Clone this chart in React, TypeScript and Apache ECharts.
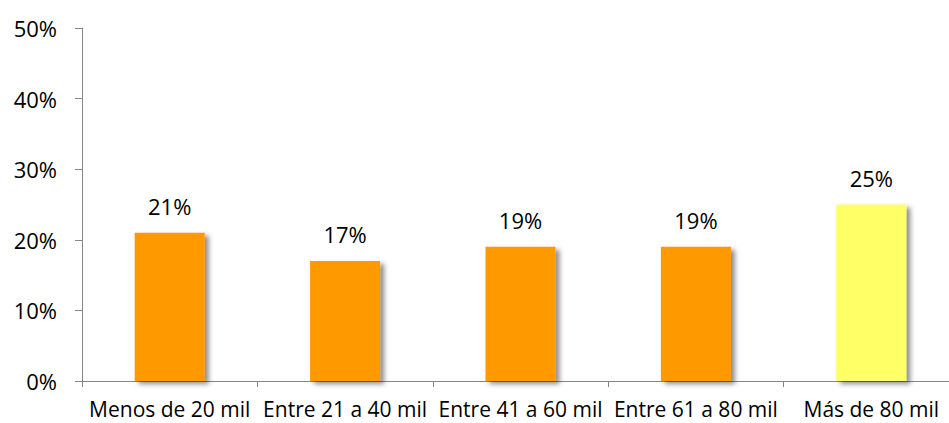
import React, { useEffect, useRef } from "react";
import * as echarts from "echarts";

const categories = ["Menos de 20 mil", "Entre 21 a 40 mil", "Entre 41 a 60 mil", "Entre 61 a 80 mil", "Más de 80 mil"];
const values = [21, 17, 19, 19, 25];
const barColors = ["#FF9900", "#FF9900", "#FF9900", "#FF9900", "#FFFF66"];
const yTicks = { min: 0, max: 50, interval: 10 };

export default function App() {
  const ref = useRef<HTMLDivElement>(null);
  useEffect(() => {
    const chart = echarts.init(ref.current!, undefined, { renderer: "svg" });
    const font = "'Open Sans', 'Liberation Sans', sans-serif";
    chart.setOption({
      animation: false,
      grid: { left: 82, top: 28, bottom: 42, width: 877, containLabel: false },
      xAxis: {
        type: "category",
        data: categories,
        axisLine: { lineStyle: { color: "#868686", width: 1 } },
        axisTick: { show: true, length: 6, lineStyle: { color: "#868686" } },
        axisLabel: { color: "#000", fontSize: 21, fontFamily: font, margin: 17, interval: 0 },
      },
      yAxis: {
        type: "value",
        min: yTicks.min,
        max: yTicks.max,
        interval: yTicks.interval,
        splitLine: { show: false },
        axisLine: { show: true, lineStyle: { color: "#868686", width: 1 } },
        axisTick: { show: true, length: 7, lineStyle: { color: "#868686" } },
        axisLabel: { color: "#000", fontSize: 22, fontFamily: font, margin: 25, formatter: "{value}%" },
      },
      series: [
        {
          type: "bar",
          barWidth: 70,
          data: values.map((v, i) => ({
            value: v,
            itemStyle: {
              color: barColors[i],
              shadowColor: "rgba(0,0,0,0.45)",
              shadowBlur: 5,
              shadowOffsetX: 4,
              shadowOffsetY: 3,
            },
          })),
          label: {
            show: true,
            position: "top",
            distance: 16,
            color: "#000",
            fontSize: 22,
            fontFamily: font,
            formatter: "{c}%",
          },
        },
      ],
    });
    return () => chart.dispose();
  }, []);
  return (
    <div style={{ width: 949, height: 423, position: "absolute", left: 0, top: 0, overflow: "hidden" }}>
      <div ref={ref} style={{ width: 980, height: 423 }} />
    </div>
  );
}
